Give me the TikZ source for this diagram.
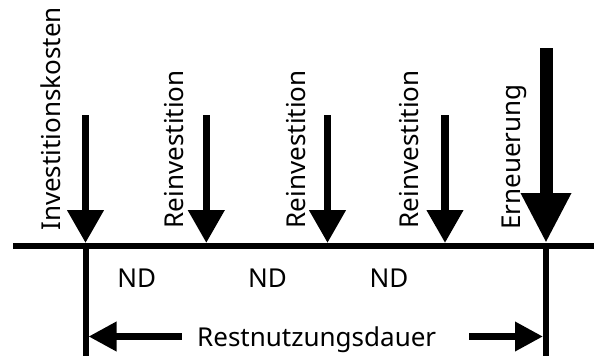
\documentclass[tikz,border=0pt]{standalone}
\usepackage{fontspec}
\setmainfont{Noto Sans}
\usetikzlibrary{arrows.meta}
\begin{document}
\begin{tikzpicture}[x=1pt,y=-1pt,
  lbl/.style={font=\fontsize{26}{30}\selectfont, inner sep=0pt},
  vlbl/.style={lbl, rotate=90, anchor=base west},
  axis/.style={line width=6pt},
  cost/.style={line width=7.5pt, -{Triangle[width=35pt,length=33pt]}},
  big/.style={line width=13pt, -{Triangle[width=47pt,length=50pt]}},
  span/.style={line width=6.7pt, -{Triangle[width=28pt,length=28pt]}}]
\useasboundingbox (0,0) rectangle (594,356);
% axis
\coordinate (L) at (13,245.5);
\coordinate (R) at (594,245.5);
\draw[axis] (L) -- (R);
\coordinate (v1t) at (85.5,245.5);
\coordinate (v1b) at (85.5,356);
\coordinate (v2t) at (546,245.5);
\coordinate (v2b) at (546,356);
\draw[axis] (v1t) -- (v1b);
\draw[axis] (v2t) -- (v2b);
% cash flow arrows
\coordinate (a1s) at (85.5,115); \coordinate (a1e) at (85.5,243);
\coordinate (a2s) at (206.3,115); \coordinate (a2e) at (206.3,243);
\coordinate (a3s) at (327.5,115); \coordinate (a3e) at (327.5,243);
\coordinate (a4s) at (445,115); \coordinate (a4e) at (445,243);
\coordinate (a5s) at (546,48); \coordinate (a5e) at (546,243);
\draw[cost] (a1s) -- (a1e);
\draw[cost] (a2s) -- (a2e);
\draw[cost] (a3s) -- (a3e);
\draw[cost] (a4s) -- (a4e);
\draw[big] (a5s) -- (a5e);
% labels
\node[vlbl] (t1) at (60,231) {Investitionskosten};
\node[vlbl] (t2) at (183,228.5) {Reinvestition};
\node[vlbl] (t3) at (305,228.5) {Reinvestition};
\node[vlbl] (t4) at (418,228.5) {Reinvestition};
\node[vlbl] (t5) at (520,230) {Erneuerung};
\node[lbl, anchor=base] (n1) at (136.7,287.3) {ND};
\node[lbl, anchor=base] (n2) at (267.5,287.3) {ND};
\node[lbl, anchor=base] (n3) at (389,287.3) {ND};
\node[lbl, anchor=base] (rn) at (316.7,346.7) {Restnutzungsdauer};
% remaining life arrows
\coordinate (b1s) at (181.7,336.5); \coordinate (b1e) at (88.5,336.5);
\coordinate (b2s) at (469.3,336.5); \coordinate (b2e) at (543,336.5);
\draw[span] (b1s) -- (b1e);
\draw[span] (b2s) -- (b2e);
\end{tikzpicture}
\end{document}
